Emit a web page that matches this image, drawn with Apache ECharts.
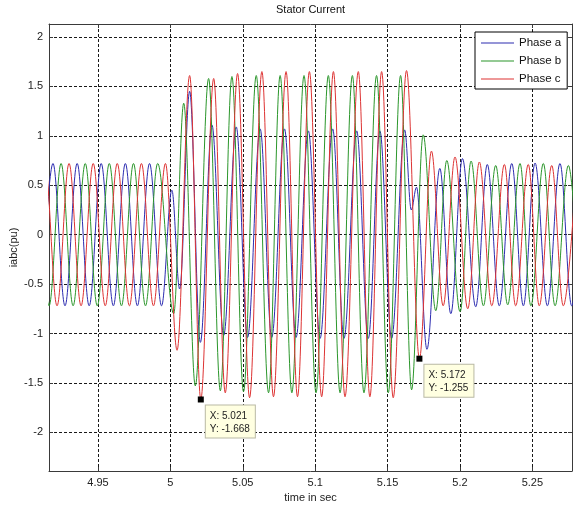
<!DOCTYPE html>
<html>
<head>
<meta charset="utf-8">
<script src="https://cdn.jsdelivr.net/npm/echarts@6/dist/echarts.min.js"></script>
<style>
  html, body { margin: 0; padding: 0; background: #fff; }
  #chart { width: 573px; height: 508px; }
</style>
</head>
<body>
<div id="chart"></div>
<script>
// tick labels
const xTicks = [4.95, 5, 5.05, 5.1, 5.15, 5.2, 5.25];
const yTicks = [-2, -1.5, -1, -0.5, 0, 0.5, 1, 1.5, 2];

// extrema of each phase current: [time (s), current (pu)]
const phaseA = [
  [4.9106, -0.72], [4.9189, 0.72], [4.9272, -0.72], [4.9356, 0.72], [4.9439, -0.72],
  [4.9522, 0.72], [4.9606, -0.72], [4.9689, 0.72], [4.9772, -0.72], [4.9856, 0.72],
  [4.9939, -0.72], [5.0010, 0.45], [5.0064, -0.55], [5.0133, 1.45], [5.0207, -1.09],
  [5.0287, 1.11], [5.0368, -1.02], [5.0455, 1.09], [5.0533, -1.04], [5.0620, 1.07],
  [5.0700, -1.04], [5.0788, 1.07], [5.0868, -1.04], [5.0953, 1.05], [5.1034, -1.05],
  [5.1121, 1.07], [5.1199, -1.05], [5.1287, 1.05], [5.1367, -1.05], [5.1447, 1.05],
  [5.1528, -1.05], [5.1618, 1.06], [5.1664, 0.25], [5.1700, 0.48], [5.1772, -1.16],
  [5.1861, 0.67], [5.1937, -0.80], [5.2017, 0.77], [5.2109, -0.73], [5.2189, 0.71],
  [5.2272, -0.72], [5.2358, 0.72], [5.2438, -0.72], [5.2519, 0.725], [5.2604, -0.72],
  [5.2691, 0.72], [5.2772, -0.72], [5.2857, 0.72]
];
const phaseB = [
  [4.9078, 0.72], [4.9162, -0.72], [4.9245, 0.72], [4.9328, -0.72], [4.9412, 0.72],
  [4.9495, -0.72], [4.9578, 0.72], [4.9662, -0.72], [4.9745, 0.72], [4.9828, -0.72],
  [4.9912, 0.72], [5.0023, -0.80], [5.0092, 1.33], [5.0172, -1.53], [5.0264, 1.58],
  [5.0345, -1.58], [5.0425, 1.60], [5.0505, -1.59], [5.0593, 1.61], [5.0678, -1.60],
  [5.0758, 1.61], [5.0839, -1.60], [5.0923, 1.61], [5.1006, -1.60], [5.1091, 1.61],
  [5.1172, -1.60], [5.1257, 1.61], [5.1337, -1.60], [5.1424, 1.61], [5.1505, -1.60],
  [5.1590, 1.61], [5.1666, -1.57], [5.1746, 1.01], [5.1833, -0.77], [5.1909, 0.75],
  [5.2001, -0.78], [5.2077, 0.745], [5.2162, -0.72], [5.2247, 0.70], [5.2330, -0.71],
  [5.2415, 0.72], [5.2490, -0.72], [5.2576, 0.72], [5.2657, -0.72], [5.2749, 0.70],
  [5.2832, -0.72]
];
const phaseC = [
  [4.9050, -0.72], [4.9133, 0.72], [4.9217, -0.72], [4.9300, 0.72], [4.9383, -0.72],
  [4.9467, 0.72], [4.9550, -0.72], [4.9633, 0.72], [4.9717, -0.72], [4.9800, 0.72],
  [4.9883, -0.72], [4.9966, 0.72], [5.0046, -1.17], [5.0133, 1.61], [5.0210, -1.668],
  [5.0299, 1.58], [5.0379, -1.60], [5.0464, 1.63], [5.0547, -1.65], [5.0632, 1.65],
  [5.0712, -1.64], [5.0799, 1.65], [5.0878, -1.64], [5.0960, 1.65], [5.1045, -1.64],
  [5.1126, 1.65], [5.1206, -1.64], [5.1298, 1.65], [5.1378, -1.64], [5.1459, 1.65],
  [5.1539, -1.65], [5.1631, 1.66], [5.1720, -1.255], [5.1803, 0.845], [5.1884, -0.72],
  [5.1966, 0.786], [5.2054, -0.75], [5.2134, 0.735], [5.2220, -0.72], [5.2307, 0.71],
  [5.2385, -0.72], [5.2472, 0.71], [5.2548, -0.72], [5.2634, 0.70], [5.2714, -0.72],
  [5.2806, 0.71]
];
const dataTips = [[5.021, -1.668], [5.172, -1.255]];

const FONT = '"Liberation Sans", Arial, sans-serif';
const AXIS_COLOR = "#3a3a3a";
const X_RANGE = [4.91615, 5.2774];
const Y_RANGE = [-2.3916, 2.1315];
const LEGEND_LINE = "path://M0,0H33V1H0Z";

const chart = echarts.init(document.getElementById("chart"), null, { renderer: "canvas" });

function phaseSeries(name, data, color) {
  return {
    name,
    type: "line",
    data,
    symbol: "none",
    smooth: 0.36,
    smoothMonotone: "x",
    lineStyle: { width: 1, color },
    itemStyle: { color },
    emphasis: { disabled: true }
  };
}

const cSeries = phaseSeries("Phase c", phaseC, "#dd3333");
cSeries.markPoint = {
  silent: true,
  symbol: "rect",
  symbolSize: 6,
  itemStyle: { color: "#000" },
  label: {
    show: true,
    position: [8, 9],
    fontFamily: FONT,
    fontSize: 10,
    lineHeight: 13,
    color: "#222",
    backgroundColor: "#ffffe1",
    borderColor: "#b9b9a4",
    borderWidth: 1,
    padding: [4, 5, 2, 4]
  },
  data: dataTips.map(([x, y]) => ({
    coord: [x, y],
    label: { formatter: `X: ${x}\nY: ${y}` }
  }))
};

const baseAxisLabel = { fontFamily: FONT, fontSize: 11, color: "#222" };

chart.setOption({
  animation: false,
  backgroundColor: "#fff",
  title: {
    text: "Stator Current",
    left: 272,
    top: 0,
    padding: 4,
    textStyle: { fontFamily: FONT, fontSize: 11, fontWeight: "normal", color: "#111" }
  },
  legend: {
    orient: "vertical",
    left: 475,
    top: 32,
    backgroundColor: "#fff",
    borderColor: "#000",
    borderWidth: 1,
    padding: [5, 6, 4, 6],
    itemWidth: 33,
    itemHeight: 12,
    itemGap: 6,
    textStyle: { fontFamily: FONT, fontSize: 11.5, color: "#111" },
    data: ["Phase a", "Phase b", "Phase c"].map((name) => ({ name, icon: LEGEND_LINE }))
  },
  grid: { left: 49, right: 1, top: 24, bottom: 37, outerBoundsMode: "none" },
  xAxis: [
    {
      type: "value",
      min: X_RANGE[0],
      max: X_RANGE[1],
      name: "time in sec",
      nameLocation: "middle",
      nameGap: 21,
      nameMoveOverlap: false,
      nameTextStyle: { fontFamily: FONT, fontSize: 11, color: "#222" },
      axisLine: { show: true, onZero: false, lineStyle: { color: AXIS_COLOR } },
      axisTick: { show: true, inside: true, length: 4, customValues: xTicks, lineStyle: { color: AXIS_COLOR } },
      axisLabel: Object.assign({ customValues: xTicks, margin: 6 }, baseAxisLabel),
      splitLine: { show: true, lineStyle: { type: [3, 2], color: "#1a1a1a", width: 1 } }
    },
    {
      type: "value",
      position: "top",
      min: X_RANGE[0],
      max: X_RANGE[1],
      axisLine: { show: true, onZero: false, lineStyle: { color: AXIS_COLOR } },
      axisTick: { show: true, inside: true, length: 4, customValues: xTicks, lineStyle: { color: AXIS_COLOR } },
      axisLabel: { show: false },
      splitLine: { show: false }
    }
  ],
  yAxis: [
    {
      type: "value",
      min: Y_RANGE[0],
      max: Y_RANGE[1],
      name: "iabc(pu)",
      nameLocation: "middle",
      nameGap: 30,
      nameMoveOverlap: false,
      nameTextStyle: { fontFamily: FONT, fontSize: 11, color: "#222" },
      axisLine: { show: true, onZero: false, lineStyle: { color: AXIS_COLOR } },
      axisTick: { show: true, inside: true, length: 4, customValues: yTicks, lineStyle: { color: AXIS_COLOR } },
      axisLabel: Object.assign({ customValues: yTicks, margin: 6 }, baseAxisLabel),
      splitLine: { show: true, lineStyle: { type: [3, 2], color: "#1a1a1a", width: 1 } }
    },
    {
      type: "value",
      position: "right",
      min: Y_RANGE[0],
      max: Y_RANGE[1],
      axisLine: { show: true, onZero: false, lineStyle: { color: AXIS_COLOR } },
      axisTick: { show: true, inside: true, length: 4, customValues: yTicks, lineStyle: { color: AXIS_COLOR } },
      axisLabel: { show: false },
      splitLine: { show: false }
    }
  ],
  series: [
    phaseSeries("Phase a", phaseA, "#2c2cb0"),
    phaseSeries("Phase b", phaseB, "#2b962b"),
    cSeries
  ]
});
</script>
</body>
</html>
